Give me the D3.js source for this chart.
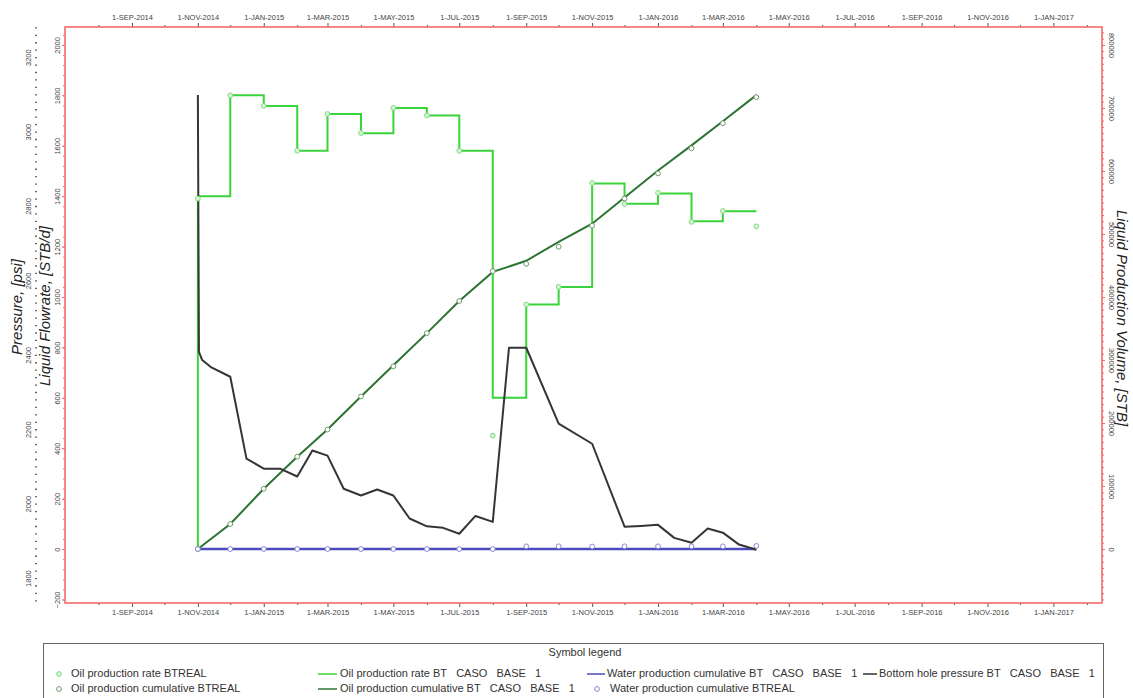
<!DOCTYPE html>
<html>
<head>
<meta charset="utf-8">
<script src="https://cdn.jsdelivr.net/npm/d3@7"></script>
<style>
  html, body { margin: 0; padding: 0; background: #fff; }
  svg { display: block; font-family: "Liberation Sans", Arial, sans-serif; }
</style>
</head>
<body>
<svg id="chart" width="1133" height="698"></svg>
<script>
// ---- data -------------------------------------------------------------
// Monthly reporting dates
const months = ["2014-11-01","2014-12-01","2015-01-01","2015-02-01","2015-03-01","2015-04-01",
  "2015-05-01","2015-06-01","2015-07-01","2015-08-01","2015-09-01","2015-10-01","2015-11-01",
  "2015-12-01","2016-01-01","2016-02-01","2016-03-01","2016-04-01"];

// Oil production rate, simulated (STB/d), held constant over each month
const oilRateSim = [1400,1800,1758,1580,1726,1650,1750,1720,1580,600,970,1040,1450,1370,1410,1300,1340,1340];
// Oil production rate, measured (STB/d)
const oilRateReal = [1390,1800,1758,1580,1726,1650,1750,1720,1580,450,970,1040,1452,1369,1413,1298,1341,1280];

// Oil production cumulative (STB)
const oilCumSim = [0,39800,95600,146600,189600,242200,291600,342600,393600,439800,457400,487600,516300,557800,600800,640600,678900,720300];
const oilCumReal = [0,39800,95600,146600,189600,242200,290000,342600,393600,441000,452600,479700,513100,556200,596000,635900,675700,717100];

// Water production cumulative (STB)
const waterCumSim = [0,0,0,0,0,0,0,0,0,0,0,0,0,0,0,0,0,0];
const waterCumReal = [0,0,0,0,0,0,0,0,0,0,4300,4300,4000,4300,4300,4300,4300,5000];

// Bottom hole pressure, simulated (psi)
const bhpDates = ["2014-11-01","2014-11-02","2014-11-05","2014-11-13","2014-12-01","2014-12-16",
  "2015-01-01","2015-01-16","2015-02-01","2015-02-15","2015-03-01","2015-03-16","2015-04-01",
  "2015-04-16","2015-05-01","2015-05-16","2015-06-01","2015-06-16","2015-07-01","2015-07-16",
  "2015-08-01","2015-08-16","2015-09-01","2015-10-01","2015-11-01","2015-12-01","2015-12-16",
  "2016-01-01","2016-01-16","2016-02-01","2016-02-16","2016-03-01","2016-03-16","2016-04-01"];
const bhpValues = [3098,2408,2386,2367,2341,2121,2094,2094,2073,2143,2129,2040,2022,2038,2022,
  1960,1939,1935,1919,1967,1951,2419,2419,2215,2161,1938,1940,1943,1908,1895,1933,1922,1890,1876];

// Axis ticks
const dateTicks = ["2014-09-01","2014-11-01","2015-01-01","2015-03-01","2015-05-01","2015-07-01",
  "2015-09-01","2015-11-01","2016-01-01","2016-03-01","2016-05-01","2016-07-01","2016-09-01",
  "2016-11-01","2017-01-01"];
const flowTicks = [-200,0,200,400,600,800,1000,1200,1400,1600,1800,2000];
const pressureTicks = [1800,2000,2200,2400,2600,2800,3000,3200];
const volumeTicks = [0,100000,200000,300000,400000,500000,600000,700000,800000];

// ---- layout -----------------------------------------------------------
const svg = d3.select("#chart");
const L = 65, R = 1102, T = 27, B = 603;
const parse = d3.timeParse("%Y-%m-%d");

const x = d3.scaleTime().domain([parse("2014-07-01"), parse("2017-02-15")]).range([L, R]);
const yFlow = d3.scaleLinear().domain([-214, 2071]).range([B, T]);
const yVol = d3.scaleLinear().domain([-214 * 400, 2071 * 400]).range([B, T]);
const yPres = d3.scaleLinear().domain([1733, 3281]).range([B, T]);

const frameColor = "#f26b6b";
const tickColor = "#555";
const labelColor = "#444";

// ---- time axes (top and bottom) ---------------------------------------
const fmtDate = d => "1-" + d3.timeFormat("%b-%Y")(d).toUpperCase();
const majorDates = dateTicks.map(parse);
const minorDates = d3.timeMonth.range(parse("2014-08-01"), parse("2017-02-15"), 2);

function timeAxis(gen, yPos) {
  const g = svg.append("g").attr("transform", `translate(0,${yPos})`);
  g.append("g").call(gen(x).tickValues(minorDates).tickSize(2).tickFormat(""))
    .call(s => s.select(".domain").remove())
    .selectAll("line").attr("stroke", tickColor);
  const maj = g.append("g").call(gen(x).tickValues(majorDates).tickSize(4).tickPadding(3).tickFormat(fmtDate))
    .call(s => s.select(".domain").remove());
  maj.selectAll("line").attr("stroke", tickColor);
  maj.selectAll("text").attr("fill", labelColor).attr("font-size", 7.5)
    .attr("font-family", "'Liberation Sans', Arial, sans-serif");
}
timeAxis(d3.axisTop, T);
timeAxis(d3.axisBottom, B);

// ---- left flow-rate axis ---------------------------------------------
const flowMinor = d3.range(-200, 2061, 40);
const gFlow = svg.append("g").attr("transform", `translate(${L},0)`);
gFlow.append("g").call(d3.axisLeft(yFlow).tickValues(flowMinor).tickSize(2).tickFormat(""))
  .call(s => s.select(".domain").remove())
  .selectAll("line").attr("stroke", frameColor);
const flowMaj = gFlow.append("g").call(d3.axisLeft(yFlow).tickValues(flowTicks).tickSize(3).tickFormat(d3.format("d")))
  .call(s => s.select(".domain").remove());
flowMaj.selectAll("line").attr("stroke", frameColor);
flowMaj.selectAll("text")
  .attr("x", 0).attr("dy", null)
  .attr("transform", "translate(-8,0) rotate(-90)")
  .attr("text-anchor", "middle")
  .attr("dominant-baseline", "central")
  .attr("fill", labelColor).attr("font-size", 7.5);

// ---- outer pressure axis ---------------------------------------------
const presMinor = d3.range(1740, 3281, 20);
const gPres = svg.append("g").attr("transform", "translate(37,0)");
gPres.append("g").call(d3.axisLeft(yPres).tickValues(presMinor).tickSize(2).tickFormat(""))
  .call(s => s.select(".domain").remove())
  .selectAll("line").attr("stroke", "#666").attr("stroke-width", 1.3);
const presMaj = gPres.append("g").call(d3.axisLeft(yPres).tickValues(pressureTicks).tickSize(0).tickFormat(d3.format("d")))
  .call(s => s.select(".domain").remove());
presMaj.selectAll("text")
  .attr("x", 0).attr("dy", null)
  .attr("transform", "translate(-9,0) rotate(-90)")
  .attr("text-anchor", "middle")
  .attr("dominant-baseline", "central")
  .attr("fill", labelColor).attr("font-size", 7.5);

// ---- right volume axis ------------------------------------------------
const volMinor = d3.range(-80000, 828001, 10000);
const gVol = svg.append("g").attr("transform", `translate(${R},0)`);
gVol.append("g").call(d3.axisRight(yVol).tickValues(volMinor).tickSize(2).tickFormat(""))
  .call(s => s.select(".domain").remove())
  .selectAll("line").attr("stroke", frameColor);
const volMaj = gVol.append("g").call(d3.axisRight(yVol).tickValues(volumeTicks).tickSize(3).tickFormat(d3.format("d")))
  .call(s => s.select(".domain").remove());
volMaj.selectAll("line").attr("stroke", frameColor);
volMaj.selectAll("text")
  .attr("x", 0).attr("dy", null)
  .attr("transform", "translate(9,0) rotate(90)")
  .attr("text-anchor", "middle")
  .attr("dominant-baseline", "central")
  .attr("fill", labelColor).attr("font-size", 7.5);

// ---- plot frame -------------------------------------------------------
svg.append("rect").attr("x", L).attr("y", T).attr("width", R - L).attr("height", B - T)
  .attr("fill", "none").attr("stroke", frameColor).attr("stroke-width", 1.6);

// ---- axis titles ------------------------------------------------------
const titleStyle = s => s.attr("font-size", 15).attr("font-style", "italic").attr("fill", "#222")
  .attr("text-anchor", "middle");
svg.append("text").attr("transform", "translate(22,307) rotate(-90)").text("Pressure, [psi]").call(titleStyle);
svg.append("text").attr("transform", "translate(50,306) rotate(-90)").text("Liquid Flowrate, [STB/d]").call(titleStyle);
svg.append("text").attr("transform", "translate(1117,318) rotate(90)").text("Liquid Production Volume, [STB]").call(titleStyle);

// ---- series -----------------------------------------------------------
const mDates = months.map(parse);
const plot = svg.append("g");

// water cumulative (simulated)
plot.append("path")
  .datum(mDates.map((d, i) => [d, waterCumSim[i]]))
  .attr("fill", "none").attr("stroke", "#4b4bbd").attr("stroke-width", 2.5)
  .attr("d", d3.line().x(d => x(d[0])).y(d => yVol(d[1])));

// oil rate (simulated), stepped per month
const rateSteps = [[mDates[0], 0]].concat(mDates.map((d, i) => [d, oilRateSim[i]]));
plot.append("path")
  .datum(rateSteps)
  .attr("fill", "none").attr("stroke", "#3ad43a").attr("stroke-width", 2)
  .attr("d", d3.line().curve(d3.curveStepAfter).x(d => x(d[0])).y(d => yFlow(d[1])));

// oil cumulative (simulated)
plot.append("path")
  .datum(mDates.map((d, i) => [d, oilCumSim[i]]))
  .attr("fill", "none").attr("stroke", "#2c7431").attr("stroke-width", 2)
  .attr("d", d3.line().x(d => x(d[0])).y(d => yVol(d[1])));

// bottom hole pressure (simulated)
plot.append("path")
  .datum(bhpDates.map((d, i) => [parse(d), bhpValues[i]]))
  .attr("fill", "none").attr("stroke", "#353535").attr("stroke-width", 2)
  .attr("stroke-linejoin", "round")
  .attr("d", d3.line().x(d => x(d[0])).y(d => yPres(d[1])));

// measured markers
function markers(vals, scale, stroke, fill) {
  plot.append("g").selectAll("circle").data(vals).join("circle")
    .attr("cx", (d, i) => x(mDates[i])).attr("cy", d => scale(d))
    .attr("r", 2.4).attr("fill", fill).attr("stroke", stroke).attr("stroke-width", 1);
}
markers(oilRateReal, yFlow, "#7fdc7f", "#d8f6d8");
markers(oilCumReal, yVol, "#6f9a6f", "#ffffff");
markers(waterCumReal, yVol, "#8a86d6", "#ffffff");

// ---- legend -----------------------------------------------------------
const lg = svg.append("g").attr("font-size", 11).attr("fill", "#333");
lg.append("rect").attr("x", 43.5).attr("y", 643.5).attr("width", 1060).attr("height", 70)
  .attr("fill", "none").attr("stroke", "#666").attr("stroke-width", 1);
lg.append("text").attr("x", 585).attr("y", 653).attr("text-anchor", "middle")
  .attr("dominant-baseline", "middle").text("Symbol legend");

const rows = [674, 689];
const sp = "\u00A0\u00A0\u00A0";
function legText(xp, yp, t) {
  lg.append("text").attr("x", xp).attr("y", yp).attr("dominant-baseline", "middle").text(t);
}
function legDot(xp, yp, stroke, fill) {
  lg.append("circle").attr("cx", xp).attr("cy", yp).attr("r", 2.4).attr("fill", fill).attr("stroke", stroke);
}
function legLine(x0, x1, yp, color, w) {
  lg.append("line").attr("x1", x0).attr("x2", x1).attr("y1", yp).attr("y2", yp)
    .attr("stroke", color).attr("stroke-width", w);
}
legDot(59, rows[0], "#7fdc7f", "#d8f6d8");
legText(71, rows[0], "Oil production rate BTREAL");
legDot(59, rows[1], "#6f9a6f", "#ffffff");
legText(71, rows[1], "Oil production cumulative BTREAL");

legLine(318, 337, rows[0], "#3ad43a", 1.5);
legText(340, rows[0], "Oil production rate BT" + sp + "CASO" + sp + "BASE" + sp + "1");
legLine(318, 337, rows[1], "#2c7431", 1.5);
legText(340, rows[1], "Oil production cumulative BT" + sp + "CASO" + sp + "BASE" + sp + "1");

legLine(587, 605, rows[0], "#4b4bbd", 1.5);
legText(607, rows[0], "Water production cumulative BT" + sp + "CASO" + sp + "BASE" + sp + "1");
legDot(597, rows[1], "#8a86d6", "#ffffff");
legText(610, rows[1], "Water production cumulative BTREAL");

legLine(863, 877, rows[0], "#303030", 1.5);
legText(879, rows[0], "Bottom hole pressure BT" + sp + "CASO" + sp + "BASE" + sp + "1");
</script>
</body>
</html>
